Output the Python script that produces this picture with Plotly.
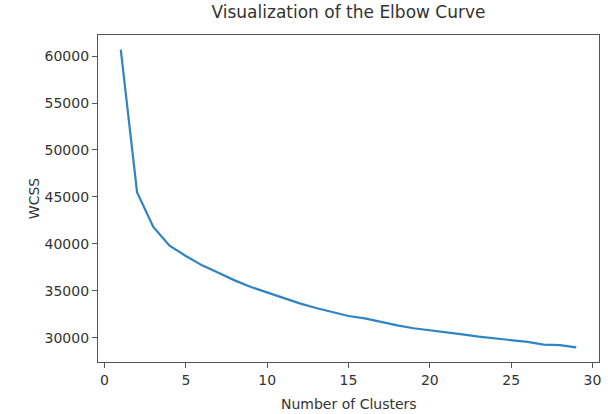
import plotly.graph_objects as go

clusters = list(range(1, 30))
wcss = [60700, 45500, 41800, 39800, 38700, 37700, 36900, 36100, 35400, 34800,
        34200, 33650, 33150, 32700, 32300, 32050, 31650, 31300, 31000, 30800,
        30600, 30350, 30100, 29900, 29700, 29550, 29250, 29200, 28950]

x_ticks = [0, 5, 10, 15, 20, 25, 30]
y_ticks = [30000, 35000, 40000, 45000, 50000, 55000, 60000]

font = "DejaVu Sans, sans-serif"
fig = go.Figure()
fig.add_trace(go.Scatter(x=clusters, y=wcss, mode="lines",
                         line=dict(color="#2f84c4", width=2.2)))

axis_common = dict(showline=True, linecolor="#555", linewidth=1.3, mirror=True,
                   ticks="outside", ticklen=5, tickcolor="#555", tickwidth=1.2,
                   showgrid=False, zeroline=False, tickformat="d",
                   tickfont=dict(family=font, size=14, color="#333"))

fig.update_layout(
    width=608, height=414,
    margin=dict(l=98, r=9, t=35, b=52),
    paper_bgcolor="white", plot_bgcolor="white",
    showlegend=False,
    title=dict(text="Visualization of the Elbow Curve", x=0.5, xanchor="center",
               xref="paper", y=0.972, yanchor="middle",
               font=dict(family=font, size=17, color="#333")),
    xaxis=dict(range=[-0.4, 30.4], tickvals=x_ticks, automargin=False,
               **axis_common),
    yaxis=dict(range=[27400, 62250], tickvals=y_ticks, automargin=False,
               title=dict(text="WCSS", standoff=1,
                          font=dict(family=font, size=14, color="#333")),
               **axis_common),
    annotations=[dict(text="Number of Clusters", xref="paper", yref="paper",
                      x=0.5, y=0, xanchor="center", yanchor="top", yshift=-32,
                      showarrow=False,
                      font=dict(family=font, size=14, color="#333"))],
)

fig.write_html("out.html")
